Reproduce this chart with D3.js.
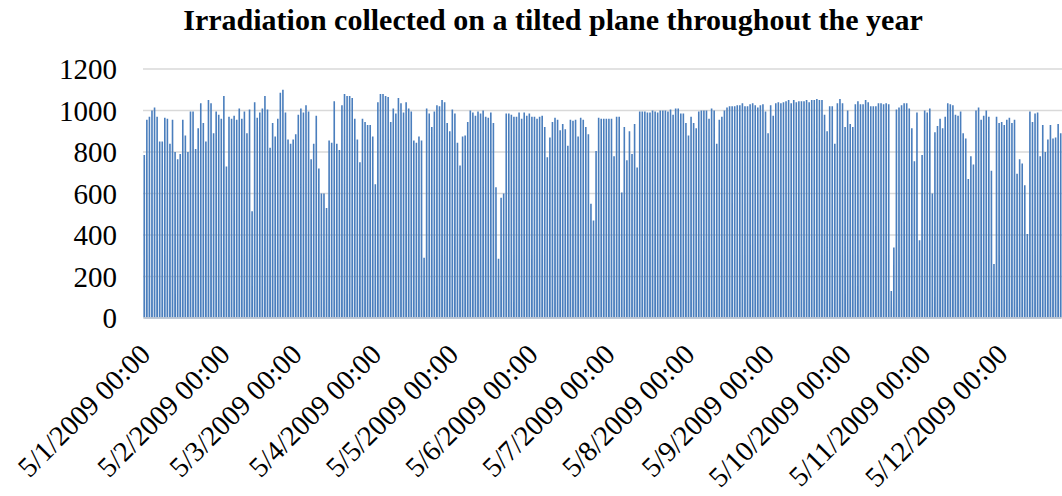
<!DOCTYPE html>
<html>
<head>
<meta charset="utf-8">
<script src="https://cdn.jsdelivr.net/npm/d3@7"></script>
<style>
  body { margin: 0; background: #fff; }
  text { font-family: "Liberation Serif", "Times New Roman", serif; fill: #000; }
</style>
</head>
<body>
<div id="chart_block"></div>
<script>
// daily peak irradiation (W/m2), one value per day starting 5/1/2009
var startDay = "2009-01-05";
var dailyPeak = [
  785, 955, 970, 1000, 1015, 970, 850, 850, 965, 960,
  840, 955, 800, 765, 790, 955, 880, 800, 995, 995,
  815, 915, 1035, 940, 850, 1050, 1035, 890, 995, 980,
  960, 1070, 730, 970, 960, 975, 955, 1010, 960, 995,
  890, 1005, 515, 1040, 965, 990, 1010, 1070, 1005, 820,
  940, 875, 960, 1085, 1100, 990, 860, 840, 860, 885,
  980, 1010, 990, 1025, 995, 765, 840, 975, 720, 600,
  600, 530, 855, 845, 1045, 840, 810,
  1025, 1080, 1070, 1070, 1060, 960, 860, 750, 960, 945,
  930, 930, 875, 645, 1040, 1080, 1080, 1070, 1065, 945,
  1010, 985, 1060, 1035, 990, 1040, 1010, 995, 855, 845,
  875, 855, 290, 1010, 985, 920, 995, 1025, 1020, 1050,
  1040, 940, 900, 1005, 985, 845, 735, 875, 880, 945,
  1000, 990, 975, 995, 985, 1000, 970, 965, 990, 940,
  630, 285, 580, 600, 985, 985, 980, 970, 970, 990,
  960, 990, 975, 985,
  970, 970, 960, 970, 975, 920, 775, 870, 945, 965,
  955, 905, 935, 910, 830, 955, 950, 955, 875, 965,
  955, 920, 885, 550, 470, 805, 965, 960, 960, 960,
  960, 960, 780, 970, 970, 605, 920, 760, 900, 790,
  935, 725, 995, 995, 995, 990, 990, 1000, 995, 990,
  1000, 1000, 1000, 995, 1005, 980, 1010, 1010, 985, 985,
  940, 880, 970, 940, 915, 995, 1000, 1000, 1000, 960,
  1010, 1000, 840, 955,
  970, 1000, 1015, 1020, 1020, 1020, 1025, 1025, 1035, 1020,
  1020, 1030, 1035, 1025, 1015, 1025, 1030, 995, 890, 1025,
  975, 1035, 1040, 1035, 1040, 1045, 1050, 1035, 1050, 1040,
  1045, 1045, 1045, 1050, 1040, 1050, 1050, 1055, 1050, 1050,
  980, 900, 1020, 1020, 840, 1035, 1055, 1035, 920, 1000,
  935, 920, 1030, 1045, 1030, 1030, 1050, 1040, 1020, 1020,
  1020, 1035, 1035, 1030, 1035, 1030, 130,
  340, 1005, 1015, 1025, 1035, 1035, 1010, 915, 755, 990,
  375, 785, 1000, 990, 1010, 600, 895, 925, 960, 915,
  970, 1035, 1030, 1025, 980, 975, 995, 890, 865, 670,
  780, 740, 1000, 1015, 955, 975, 1000, 970, 710, 260,
  970, 940, 945, 930, 955, 965, 940, 955, 695, 765,
  745, 640, 405, 995, 945, 985, 990, 780, 930, 800,
  860, 930, 865, 870, 935, 890
];

// axis ticks
var yTicks = [0, 200, 400, 600, 800, 1000, 1200];
var xTickDates = ["2009-01-05", "2009-02-05", "2009-03-05", "2009-04-05", "2009-05-05", "2009-06-05",
                  "2009-07-05", "2009-08-05", "2009-09-05", "2009-10-05", "2009-11-05", "2009-12-05"];
var xTickLabels = ["5/1/2009 00:00", "5/2/2009 00:00", "5/3/2009 00:00", "5/4/2009 00:00",
                   "5/5/2009 00:00", "5/6/2009 00:00", "5/7/2009 00:00", "5/8/2009 00:00",
                   "5/9/2009 00:00", "5/10/2009 00:00", "5/11/2009 00:00", "5/12/2009 00:00"];
var chartTitle = "Irradiation collected on a tilted plane throughout the year";

// set the dimensions and margins of the graph
var margin = { top: 69, right: 0, bottom: 178, left: 143 },
    width = 1062 - margin.left - margin.right,
    height = 496 - margin.top - margin.bottom;

var svg = d3.select("#chart_block")
    .append("svg")
    .attr("width", 1062)
    .attr("height", 496);

var g = svg.append("g")
    .attr("transform", "translate(" + margin.left + "," + margin.top + ")");

var parseDay = d3.utcParse("%Y-%m-%d");
var t0 = parseDay(startDay);

// x is a time scale, the plot is cut at the right edge of the picture
var x = d3.scaleUtc()
    .domain([t0, d3.utcDay.offset(t0, 358)])
    .range([0, width]);

var y = d3.scaleLinear()
    .domain([0, 1200])
    .range([height, 0]);

// gridlines
g.selectAll(".grid")
    .data(yTicks.filter(function(d) { return d > 0; }))
    .enter()
    .append("line")
    .attr("class", "grid")
    .attr("x1", 0)
    .attr("x2", width)
    .attr("y1", function(d) { return y(d); })
    .attr("y2", function(d) { return y(d); })
    .attr("stroke", "#d9d9d9")
    .attr("stroke-width", 1.3);

// each day rises from zero in the morning to its peak at noon and falls back to zero
var points = [];
dailyPeak.forEach(function(v, i) {
    var day = d3.utcDay.offset(t0, i);
    points.push([d3.utcMinute.offset(day, 11 * 60), 0]);
    points.push([d3.utcHour.offset(day, 12), v]);
    points.push([d3.utcMinute.offset(day, 13 * 60), 0]);
});

var line = d3.line()
    .x(function(d) { return x(d[0]); })
    .y(function(d) { return y(d[1]); });

g.append("clipPath")
    .attr("id", "plotclip")
    .append("rect")
    .attr("x", 0)
    .attr("y", -5)
    .attr("width", width)
    .attr("height", height + 10);

g.append("path")
    .datum(points)
    .attr("clip-path", "url(#plotclip)")
    .attr("fill", "none")
    .attr("stroke", "#4a7ebd")
    .attr("stroke-width", 1.6)
    .attr("stroke-linejoin", "bevel")
    .attr("d", line);

// bottom axis line
g.append("line")
    .attr("x1", 0)
    .attr("x2", width)
    .attr("y1", y(0))
    .attr("y2", y(0))
    .attr("stroke", "#d9d9d9")
    .attr("stroke-width", 1.5);

// y labels
g.selectAll(".ylabel")
    .data(yTicks)
    .enter()
    .append("text")
    .attr("class", "ylabel")
    .attr("x", -26)
    .attr("y", function(d) { return y(d); })
    .attr("dy", "0.35em")
    .attr("text-anchor", "end")
    .style("font-size", "29px")
    .text(function(d) { return d; });

// x labels, rotated
g.selectAll(".xlabel")
    .data(xTickDates)
    .enter()
    .append("text")
    .attr("class", "xlabel")
    .attr("transform", function(d) {
        return "translate(" + (x(parseDay(d)) + 2) + "," + (height + 31) + ") rotate(-45)";
    })
    .attr("dy", "0.35em")
    .attr("text-anchor", "end")
    .style("font-size", "28.5px")
    .text(function(d, i) { return xTickLabels[i]; });

// title
svg.append("text")
    .attr("x", 553)
    .attr("y", 30)
    .attr("text-anchor", "middle")
    .style("font-size", "30px")
    .style("font-weight", "bold")
    .text(chartTitle);
</script>
</body>
</html>
